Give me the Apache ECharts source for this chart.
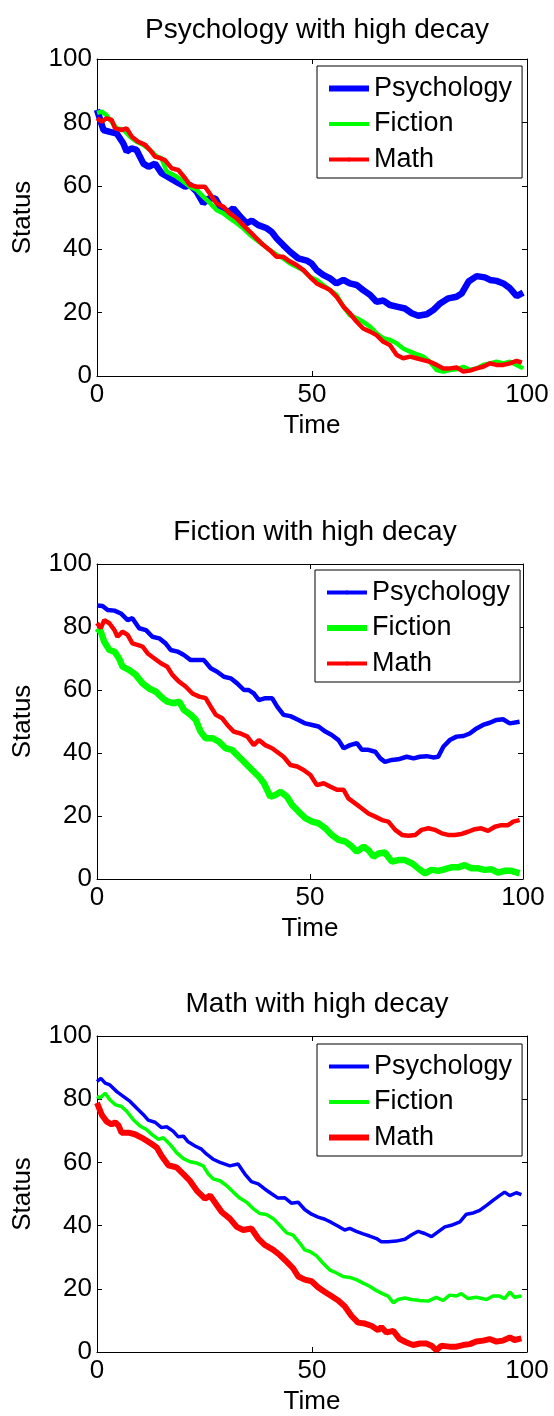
<!DOCTYPE html>
<html>
<head>
<meta charset="utf-8">
<script src="https://cdn.jsdelivr.net/npm/echarts@6/dist/echarts.min.js"></script>
<style>
html,body{margin:0;padding:0;background:#fff;}
#c{width:554px;height:1416px;}
</style>
</head>
<body>
<div id="c"></div>
<script>
// ---------- data: [time, status] ----------
const titles = ['Psychology with high decay', 'Fiction with high decay', 'Math with high decay'];
const seriesNames = ['Psychology', 'Fiction', 'Math'];
const xTicks = [0, 50, 100];
const yTicks = [0, 20, 40, 60, 80, 100];

// Plot 1: Psychology with high decay
const p1Psychology = [[0,84],[1.5,77.6],[3,77],[4.6,76.5],[6.1,73.4],[6.9,70.8],[8,71.8],[9.2,71.3],[10.8,67],[12,66],[13.5,67],[15,64],[17,62.4],[19,60.8],[20.5,59.7],[21.6,60.3],[23.2,58.1],[24.7,54.5],[26,56],[27.5,56],[28.6,53.4],[30.2,51.3],[31.7,52.9],[33.3,50.3],[34.8,48.2],[36,49],[37.5,47.6],[39.5,46.6],[40.6,45.5],[41.8,43.4],[43.3,41.3],[44.9,39.2],[46.8,37.1],[48.8,36.4],[49.9,35.5],[51.1,33.4],[52.6,31.9],[54.2,30.8],[55.7,29.2],[57.3,30.3],[58.8,29.2],[60.4,28.7],[61.9,27.1],[63.5,25.6],[65,23.4],[66.6,23.8],[68.1,22.4],[69.7,21.9],[71.6,21.3],[73.2,19.8],[74.7,19],[76.7,19.5],[78.2,20.8],[79.8,22.9],[81.7,24.5],[83.6,25],[84.8,26],[86.4,29.8],[88.3,31.5],[90.2,31.1],[91.4,30.3],[92.9,30],[94.5,29.2],[96,27.7],[97.6,25.2],[99.1,26.3]];
const p1Fiction = [[0,83],[1.1,83.4],[2.2,82.3],[3.4,80.2],[4.6,78.1],[6.1,77.8],[7.7,75.5],[9.2,73.9],[10.8,72.9],[12.3,71.3],[13.9,69.2],[15,68.7],[16.2,64.5],[18.5,62.9],[20.1,61.3],[21.6,59.7],[23.2,58.7],[24.7,56.6],[26.3,54.5],[27.8,52.4],[29.4,51.3],[30.9,49.7],[32.5,48.2],[34,46.6],[35.6,44.5],[37.1,42.9],[38.7,41.3],[40.2,39.7],[41.8,38.2],[43.3,37.1],[44.9,35.5],[46.4,34.5],[48,33.4],[49.5,31.3],[51.1,30.3],[52.6,28.7],[54.2,27.1],[55.7,25.6],[57.3,21.9],[58.8,19.2],[60.4,18.2],[61.9,17.1],[63.5,15.6],[65,13.5],[66.6,11.9],[68.1,11.4],[69.7,10.3],[71.2,8.7],[72.8,7.7],[74.3,6.9],[75.9,6.1],[77.4,4.5],[79,1.9],[80.5,1.4],[82.1,1.9],[83.6,2.1],[85.2,2.9],[86.7,1.9],[88.3,2.4],[89.8,3.5],[91.4,4],[92.9,4.5],[94.5,4],[96,4.5],[97.6,3.5],[99.1,2.4]];
const p1Math = [[0,81.3],[1.1,80.2],[2.2,81.3],[3.4,80.8],[4.2,78.1],[5.7,77.6],[6.9,78.1],[8.1,75.5],[9.6,73.9],[11.2,72.9],[12.3,71.3],[13.5,69.2],[14.7,68.7],[15.8,68.1],[17.4,65.5],[18.9,65],[20.5,62.4],[21.6,60.3],[23.2,59.7],[25.1,59.7],[26.7,56.6],[27.8,54.5],[29.4,53.4],[30.9,51.3],[32.5,49.7],[34,47.6],[35.6,45.5],[37.1,43.4],[38.7,41.3],[40.2,39.7],[41.8,37.6],[43.3,37.6],[44.9,36.1],[46.4,35],[48,33.4],[49.5,31.3],[51.1,29.2],[52.6,28.2],[54.2,27.1],[55.7,25],[57.3,21.9],[58.8,19.8],[60.4,17.1],[61.9,15],[63.5,14],[65,12.9],[66.6,10.8],[68.1,9.8],[69.7,6.6],[71.2,5.6],[72.8,6.1],[74.3,5.6],[75.9,5],[77.4,4.5],[79,3.5],[80.5,2.4],[82.1,2.4],[83.6,2.7],[85.2,1.4],[86.7,1.7],[88.3,2.4],[89.8,2.9],[91.4,4],[92.9,3.5],[94.5,3.5],[96,4],[97.6,4.8],[98.8,4.2]];

// Plot 2: Fiction with high decay
const p2Psychology = [[0,86.8],[1.3,86.7],[2.5,85.4],[4.1,85.2],[5.6,84.3],[7.2,82.2],[8.3,82.8],[9.9,79.6],[11.5,79],[13,76.9],[14.6,76.4],[16.1,74.8],[17.3,72.7],[18.9,72.2],[20.4,71.1],[22,69.5],[23.6,69.5],[25.1,69.5],[26.7,66.9],[28.2,65.8],[29.8,64.2],[31.4,63.7],[32.9,62.1],[34.5,60],[35.6,60],[36.8,58.9],[38,56.8],[39.5,57.4],[41.1,57.4],[42.3,54.7],[43.8,52.1],[45.4,51.7],[47.3,50.5],[48.9,49.4],[50.5,48.9],[52,48.4],[53.6,46.8],[55.1,45.7],[56.7,44.1],[57.9,41.5],[59.4,42.5],[61,43.1],[62.2,41],[63.7,41],[65.3,40.4],[66.5,38.3],[67.6,37.2],[69.2,37.8],[70.7,38],[72.7,38.8],[74.3,38.3],[75.8,38.8],[77.4,39],[78.9,38.6],[80.1,38.8],[81.3,42],[82.8,44.1],[84.4,45.2],[86,45.4],[87.5,46.2],[89.1,47.8],[90.6,48.9],[92.2,49.6],[93.8,50.5],[95.3,50.7],[96.9,49.4],[99.2,49.9]];
const p2Fiction = [[0,79.6],[0.9,78.5],[1.7,75.3],[2.9,72.7],[4.1,72.2],[5.2,70],[6,67.4],[7.6,66.3],[9.1,64.8],[10.7,62.1],[12.2,60.5],[13.8,59.5],[15.4,57.4],[16.5,56.3],[18.1,55.8],[19.3,56.3],[20.4,53.7],[22,52.1],[23.2,50.5],[24.3,46.8],[25.5,44.7],[27.1,44.7],[28.6,43.6],[30.2,41.5],[31.7,41],[33.3,38.8],[34.9,36.7],[36.4,34.6],[38,32.5],[39.2,30.4],[40.7,26.1],[41.9,26.7],[43.1,27.7],[44.6,26.1],[45.8,23.5],[47.3,21.4],[48.9,19.3],[50.5,18.2],[52,17.7],[53.6,16.1],[55.1,14],[56.7,12.4],[58.3,11.9],[59.8,10.3],[61,8.7],[62.6,10.3],[63.7,9.2],[64.9,7.1],[66.1,8.1],[67.6,8.4],[69.2,5.5],[70.7,6],[72.3,6],[73.9,5],[75.4,3.4],[77,1.8],[78.5,2.9],[80.1,2.6],[81.7,3.1],[83.2,3.7],[84.8,3.7],[86.3,4.4],[87.9,3.4],[89.5,3.4],[91,2.9],[92.6,3.1],[94.1,2],[95.7,2.6],[97.3,2.6],[99.2,1.8]];
const p2Math = [[0,81.2],[0.9,79.6],[1.7,82.2],[2.9,81.2],[4.1,79],[4.8,76.9],[6,78.5],[7.2,77.5],[8.3,74.8],[9.5,74.3],[10.7,73.8],[11.9,71.6],[13.4,70.1],[15,68.5],[16.5,67.4],[17.7,64.8],[19.3,62.6],[20.8,61.1],[22.4,58.9],[24,57.9],[25.5,57.4],[26.7,54.7],[27.9,52.1],[29.4,51],[30.6,48.9],[32.1,46.8],[33.7,46.2],[35.3,45.2],[36.8,42.5],[38,44.1],[39.5,42.5],[41.1,41.5],[42.7,39.9],[43.8,38.8],[45.4,36.2],[47,35.7],[48.5,34.6],[50.1,33],[51.6,29.8],[53.2,30.4],[54.8,29.3],[56.3,28.3],[57.9,28.3],[59,25.6],[60.6,24],[62.2,22.4],[63.7,20.8],[65.3,19.8],[66.9,18.7],[68.4,18.2],[70,15.6],[71.6,14],[73.1,13.7],[74.7,14],[76.2,15.6],[77.8,16.1],[79.3,15.6],[80.9,14.5],[82.4,14],[84,14],[85.6,14.3],[87.1,15],[88.7,15.8],[90.2,16.1],[91.8,15.3],[93.4,16.6],[94.9,17.1],[96.5,17.1],[97.7,18.2],[99.2,18.7]];

// Plot 3: Math with high decay
const p3Psychology = [[0,85.6],[0.9,86.6],[1.9,85.1],[3,84.5],[4.6,82.4],[6.1,80.9],[7.7,79.3],[9.2,77.2],[10.8,75.1],[11.9,73.4],[13.5,72.7],[15,71],[16.2,71.3],[17.7,69.9],[18.9,68.1],[20.1,68.3],[21.2,66.5],[22.8,65.2],[24.3,64.2],[25.5,62.6],[27,61],[28.6,60],[30.9,58.9],[32.8,59.5],[34.4,56.3],[35.9,53.9],[37.5,53.2],[39,51.6],[40.6,50.1],[42.1,48.7],[43.7,48.8],[45.2,47.1],[46.8,47.4],[48.3,45.1],[49.9,43.6],[51.4,42.7],[53,42],[54.5,41],[56.1,39.8],[57.6,38.6],[58.8,39.1],[60.3,38.2],[61.9,37.4],[63.4,36.7],[65,35.9],[66.1,34.9],[67.7,34.9],[69.6,35.1],[71.6,35.7],[73.1,37],[74.7,38.2],[76.2,37.5],[77.8,36.5],[79.3,38],[80.9,39.6],[82.4,40.1],[84.4,41.2],[85.9,43.6],[87.5,44],[89,44.8],[90.6,46.4],[92.1,48],[93.6,49.5],[94.8,50.6],[96,49.5],[97.5,50.4],[98.7,49.8]];
const p3Fiction = [[0,80.9],[0.7,80.4],[1.9,81.9],[3,79.8],[4.2,78.3],[5.7,77.7],[6.9,76.2],[8.4,73.6],[10,71.5],[11.5,70.4],[12.7,68.9],[14.3,67.3],[15.4,67.8],[17,65.7],[18.5,63.1],[20.1,61.2],[21.6,60.2],[23.2,59.8],[24.7,58.9],[25.9,56.3],[27,54.8],[28.6,54.2],[30.1,52.7],[31.7,50.6],[33.2,48.7],[34.8,47.4],[36.3,45.4],[37.9,43.8],[39.4,43.5],[41,42.2],[42.5,40.1],[44.1,37.7],[45.6,37],[47.2,34.4],[48.3,32.3],[49.5,31.8],[51,30.5],[52.6,28.1],[54.1,26],[55.7,25],[57.2,23.9],[58.8,23.6],[60.3,22.9],[61.9,21.8],[63.4,20.8],[65,19.4],[66.5,18.4],[67.7,17.7],[68.9,15.6],[70,16.6],[71.6,17.1],[73.1,16.6],[75.1,16.3],[77,16.1],[78.9,17.3],[80.5,16.3],[82,18],[83.6,17.7],[84.7,18.5],[86.3,16.9],[88.2,17.3],[90.6,16.6],[92.1,17.7],[93.6,17.7],[94.8,16.9],[96,19],[97.1,17.3],[98.7,17.7]];
const p3Math = [[0,78.8],[1.1,75.1],[2.2,73],[3.4,72],[4.2,72.7],[5,71.7],[5.7,69.4],[7.3,69.4],[8.8,68.9],[10.8,67.5],[12.3,66.2],[13.9,64.7],[15,62.1],[16.6,59.1],[18.5,58.4],[20.1,56.3],[21.6,54.2],[23.2,51.1],[25.1,48.5],[26.3,49.5],[27.4,47.4],[29,44.3],[30.9,42.2],[32.5,39.6],[34,38.6],[35.9,39.1],[37.5,35.9],[39,33.9],[41,32.3],[42.5,30.7],[44.1,28.6],[45.6,26.5],[46.8,23.9],[48.3,22.9],[49.9,22.4],[51.4,20.5],[53,19],[54.5,17.7],[56.1,16.3],[57.6,14.5],[59.2,11.4],[60.7,9.3],[62.3,9],[63.8,8.3],[65.4,6.9],[66.1,7.9],[67.3,6.2],[68.9,6.7],[70.4,4.1],[72,3],[73.5,2.2],[75.1,2.7],[76.6,2.7],[77.8,2],[78.9,0.6],[80.1,2],[82,1.7],[83.6,1.7],[85.1,2.2],[86.7,2.5],[88.2,3.3],[89.8,3.6],[91.3,4.1],[92.9,3.3],[94.4,3.6],[96,4.6],[97.1,3.8],[98.7,4.3]];

const plotData = [
  [p1Psychology, p1Fiction, p1Math],
  [p2Psychology, p2Fiction, p2Math],
  [p3Psychology, p3Fiction, p3Math]
];

// ---------- styling / layout ----------
const colors = ['#0000ff', '#00ff00', '#ff0000'];
const FONT = 'Liberation Sans, Arial, sans-serif';
const grids = [
  {left: 97, top: 59, width: 430, height: 317},
  {left: 97, top: 564, width: 426, height: 315},
  {left: 97, top: 1036, width: 430, height: 319}
];
const titleY = [11, 513, 985];
const legendPos = [{left: 317, top: 66}, {left: 315, top: 570}, {left: 317, top: 1044}];
const thickIdx = [0, 1, 2];              // which series is emphasised in each plot
const withMarkers = [true, true, false];

const option = {
  animation: false,
  backgroundColor: '#ffffff',
  textStyle: {fontFamily: FONT, color: '#000'},
  title: [], grid: [], xAxis: [], yAxis: [], legend: [], series: []
};

const tickCommon = {show: true, inside: true, length: 5, lineStyle: {color: '#000', width: 1}};
const lineCommon = {show: true, onZero: false, lineStyle: {color: '#000', width: 1}};

grids.forEach((g, i) => {
  option.grid.push(Object.assign({containLabel: false}, g));
  option.title.push({
    text: titles[i],
    left: g.left + g.width / 2,
    top: titleY[i],
    textAlign: 'center',
    textStyle: {fontFamily: FONT, fontSize: 28, fontWeight: 'normal', color: '#000'}
  });
  // bottom x
  option.xAxis.push({
    gridIndex: i, type: 'value', position: 'bottom', min: 0, max: 100, interval: 50,
    name: 'Time', nameLocation: 'middle', nameGap: 37,
    nameTextStyle: {fontFamily: FONT, fontSize: 26, color: '#000'},
    axisLine: lineCommon, axisTick: tickCommon,
    axisLabel: {margin: 6, fontFamily: FONT, fontSize: 26, color: '#000'},
    splitLine: {show: false}
  });
  // top x (box + ticks)
  option.xAxis.push({
    gridIndex: i, type: 'value', position: 'top', min: 0, max: 100, interval: 50,
    axisLine: lineCommon, axisTick: tickCommon, axisLabel: {show: false}, splitLine: {show: false}
  });
  // left y
  option.yAxis.push({
    gridIndex: i, type: 'value', position: 'left', min: 0, max: 100, interval: 20,
    name: 'Status', nameLocation: 'middle', nameGap: 61,
    nameTextStyle: {fontFamily: FONT, fontSize: 26, color: '#000'},
    axisLine: lineCommon, axisTick: tickCommon,
    axisLabel: {margin: 5, fontFamily: FONT, fontSize: 26, color: '#000'},
    splitLine: {show: false}
  });
  // right y
  option.yAxis.push({
    gridIndex: i, type: 'value', position: 'right', min: 0, max: 100, interval: 20,
    axisLine: lineCommon, axisTick: tickCommon, axisLabel: {show: false}, splitLine: {show: false}
  });

  const thinW = withMarkers[i] ? 4.5 : 3.5;
  const thickW = withMarkers[i] ? 6.5 : 6;
  seriesNames.forEach((name, k) => {
    option.series.push({
      type: 'line', name: name,
      xAxisIndex: i * 2, yAxisIndex: i * 2,
      data: plotData[i][k],
      symbol: 'circle', symbolSize: 4, showSymbol: false,
      lineStyle: {color: colors[k], width: k === thickIdx[i] ? thickW : thinW},
      itemStyle: {color: colors[k]},
      z: 3
    });
  });

  option.legend.push({
    left: legendPos[i].left, top: legendPos[i].top,
    orient: 'vertical', selectedMode: false,
    backgroundColor: '#fff', borderColor: '#000', borderWidth: 1, borderRadius: 0,
    padding: [9, 10, 5, 9],
    itemWidth: 40, itemHeight: 5, itemGap: 8.5,
    textStyle: {fontFamily: FONT, fontSize: 27, color: '#000'},
    data: seriesNames.map((name, k) => ({
      name: name,
      lineStyle: {color: colors[k], width: k === thickIdx[i] ? 6 : 4},
      itemStyle: {color: colors[k], opacity: withMarkers[i] ? 1 : 0}
    }))
  });
});

const chart = echarts.init(document.getElementById('c'), null, {renderer: 'canvas', width: 554, height: 1416});
chart.setOption(option);
</script>
</body>
</html>
